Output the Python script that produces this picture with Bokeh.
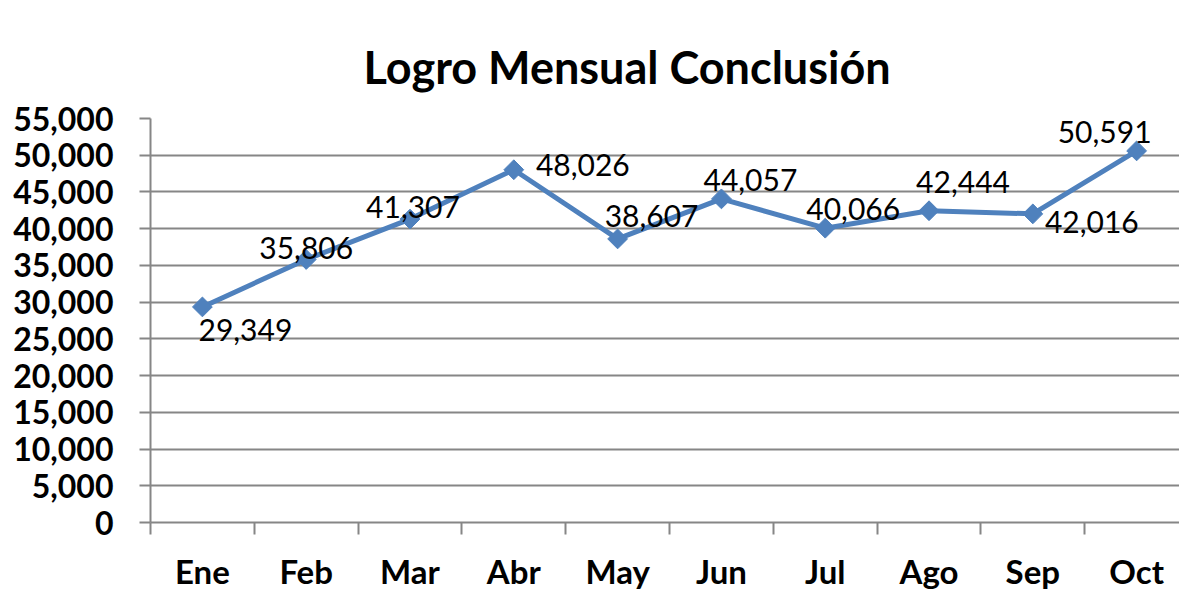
import math
from bokeh.plotting import figure
from bokeh.models import Range1d, FixedTicker, NumeralTickFormatter
from bokeh.core.properties import value
from bokeh.embed import file_html
from bokeh.resources import INLINE

# ---- data ----
months = ["Ene", "Feb", "Mar", "Abr", "May", "Jun", "Jul", "Ago", "Sep", "Oct"]
logro = [29349, 35806, 41307, 48026, 38607, 44057, 40066, 42444, 42016, 50591]
y_ticks = [0, 5000, 10000, 15000, 20000, 25000, 30000, 35000, 40000, 45000, 50000, 55000]
title_text = "Logro Mensual Conclusión"

# ---- label placement (screen px offsets from each point) ----
label_dx = [43, 0, 3, 69, 34, 29, 28, 34, 59, -32]
label_dy = [23, -11, -12, -5, -23, -19, -19, -29, 8, -19]

BLUE = "#4F81BD"
GRAY = "#868686"
FONT = "Lato"

xs = list(range(len(months)))
boundaries = [i - 0.5 for i in range(len(months) + 1)]

p = figure(
    width=1171, height=585,
    output_backend="svg", toolbar_location=None,
    x_range=Range1d(-0.5, 9.413), y_range=Range1d(0, 55000),
    min_border_left=142, min_border_right=0, min_border_top=110, min_border_bottom=40,
)
p.styles = {"margin-left": "8px", "margin-top": "8px"}
p.outline_line_color = None
p.background_fill_color = "white"
p.border_fill_color = "white"

# title
p.title.text = title_text
p.title.text_font = FONT
p.title.text_font_size = "45px"
p.title.text_font_style = "bold"
p.title.text_color = "black"
p.title.align = "left"
p.title.offset = 213
p.title.standoff = 50

# y axis
p.yaxis.ticker = FixedTicker(ticks=y_ticks)
p.yaxis.formatter = NumeralTickFormatter(format="0,0")
p.yaxis.major_label_text_font = FONT
p.yaxis.major_label_text_font_size = "32px"
p.yaxis.major_label_text_font_style = "bold"
p.yaxis.major_label_text_color = "black"
p.yaxis.major_tick_out = 11
p.yaxis.major_tick_in = 0
p.yaxis.major_tick_line_color = GRAY
p.yaxis.major_tick_line_width = 2
p.yaxis.minor_tick_line_color = None
p.yaxis.axis_line_color = GRAY
p.yaxis.axis_line_width = 2
p.yaxis.major_label_standoff = 26

# x axis
p.xaxis.ticker = FixedTicker(ticks=xs, minor_ticks=boundaries)
p.xaxis.major_label_overrides = {i: m for i, m in zip(xs, months)}
p.xaxis.major_label_text_font = FONT
p.xaxis.major_label_text_font_size = "33px"
p.xaxis.major_label_text_font_style = "bold"
p.xaxis.major_label_text_color = "black"
p.xaxis.major_tick_line_color = None
p.xaxis.major_tick_out = 12
p.xaxis.minor_tick_line_color = GRAY
p.xaxis.minor_tick_line_width = 2
p.xaxis.minor_tick_out = 12
p.xaxis.minor_tick_in = 0
p.xaxis.axis_line_color = GRAY
p.xaxis.axis_line_width = 2
p.xaxis.major_label_standoff = 16

# grid
p.xgrid.visible = False
p.ygrid.ticker = FixedTicker(ticks=y_ticks)
p.ygrid.grid_line_color = GRAY
p.ygrid.grid_line_width = 2

# series
p.line(xs, logro, line_width=5, line_color=BLUE)
p.scatter(xs, logro, marker="square", angle=math.pi / 4, size=14,
          fill_color=BLUE, line_color=BLUE)

labels = [f"{v:,}" for v in logro]
p.text(x=xs, y=logro, text=labels, x_offset=label_dx, y_offset=label_dy,
       text_align="center", text_baseline="middle",
       text_font=value(FONT), text_font_size="30px", text_color="black")

open("out.html", "w").write(file_html(p, INLINE))
